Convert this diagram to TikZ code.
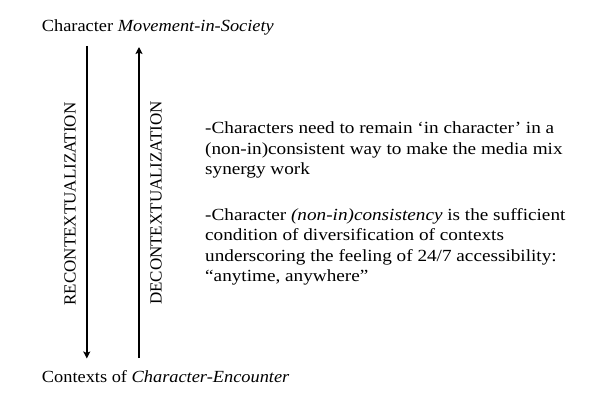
\documentclass[tikz,border=0pt]{standalone}
\usepackage{fontspec}
\setmainfont{Liberation Serif}
\newfontfamily\capfont{Liberation Serif}[FakeStretch=1.08]
\newfontfamily\parafont{Liberation Serif}[FakeStretch=1.13]
\usetikzlibrary{arrows.meta}
\begin{document}
\begin{tikzpicture}[x=1pt,y=-1pt,
  txt/.style={inner sep=0pt, anchor=base west, font=\capfont\fontsize{17}{20}\selectfont},
  para/.style={inner sep=0pt, anchor=base west, align=left, font=\parafont\fontsize{17}{20.3}\selectfont},
  vlabel/.style={inner sep=0pt, rotate=90, font=\fontsize{17}{19}\selectfont},
  flow/.style={line width=1.8pt, -{Stealth[length=7pt,width=7pt,inset=1.5pt]}}]
\useasboundingbox (0,0) rectangle (608,401);
\node[txt] (top) at (41.7,31.5) {Character \textit{Movement-in-Society}};
\node[txt] (bot) at (41.7,382.5) {Contexts of \textit{Character-Encounter}};
\coordinate (rtop) at (86.8,46);
\coordinate (rbot) at (86.8,358.5);
\coordinate (dbot) at (139,358);
\coordinate (dtop) at (139,47);
\draw[flow] (rtop) -- (rbot);
\draw[flow] (dbot) -- (dtop);
\node[vlabel] (recon) at (70,204) {RECONTEXTUALIZATION};
\node[vlabel] (decon) at (156,203) {DECONTEXTUALIZATION};
\node[para] (p1) at (205,174.5) {-Characters need to remain ‘in character’ in a\\(non-in)consistent way to make the media mix\\synergy work};
\node[para] (p2) at (205,281.5) {-Character \textit{(non-in)consistency} is the sufficient\\condition of diversification of contexts\\underscoring the feeling of 24/7 accessibility:\\“anytime, anywhere”};
\end{tikzpicture}
\end{document}
